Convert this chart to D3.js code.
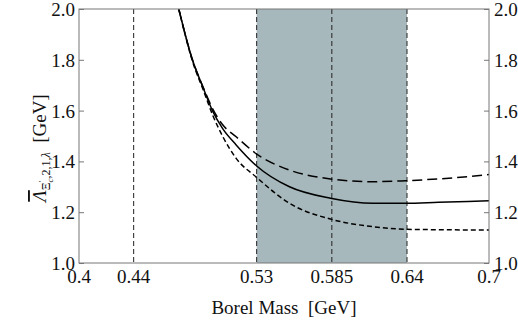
<!DOCTYPE html>
<html>
<head>
<meta charset="utf-8">
<script src="https://cdn.jsdelivr.net/npm/d3@7"></script>
<style>
  body { margin: 0; background: #fff; }
</style>
</head>
<body>
<svg id="chart" width="518" height="322"></svg>
<script>
// Borel mass (GeV) and the three curves
const borelMass = [0.473, 0.483, 0.491, 0.498, 0.505, 0.515, 0.53, 0.554, 0.584, 0.615, 0.639, 0.663, 0.70];
const central   = [2.0, 1.80, 1.688, 1.596, 1.53, 1.465, 1.382, 1.300, 1.255, 1.235, 1.235, 1.239, 1.245];
const upper     = [2.0, 1.80, 1.69, 1.605, 1.545, 1.497, 1.429, 1.366, 1.331, 1.320, 1.324, 1.331, 1.348];
const lower     = [2.0, 1.795, 1.68, 1.58, 1.50, 1.412, 1.337, 1.235, 1.173, 1.143, 1.133, 1.131, 1.130];

const xTicks = [0.4, 0.44, 0.53, 0.585, 0.64, 0.7];
const yTicks = [1.0, 1.2, 1.4, 1.6, 1.8, 2.0];
const markers = [0.44, 0.53, 0.585, 0.64];
const window_ = [0.53, 0.64];

const FONT = '"Liberation Serif"';
const svg = d3.select("#chart");
const margin = { top: 9, right: 29, bottom: 59, left: 79 };
const width = 518, height = 322;

const x = d3.scaleLinear().domain([0.4, 0.7]).range([margin.left, width - margin.right]);
const y = d3.scaleLinear().domain([1.0, 2.0]).range([height - margin.bottom, margin.top]);

svg.append("defs").append("clipPath").attr("id", "clip").append("rect")
  .attr("x", x(0.4)).attr("y", y(2.0)).attr("width", x(0.7) - x(0.4)).attr("height", y(1.0) - y(2.0));

// shaded working window
svg.append("rect").attr("x", x(window_[0])).attr("y", y(2.0))
  .attr("width", x(window_[1]) - x(window_[0])).attr("height", y(1.0) - y(2.0))
  .attr("fill", "#a6b8bb");

// vertical dashed markers
svg.selectAll(".marker").data(markers).join("line").attr("class", "marker")
  .attr("x1", d => x(d)).attr("x2", d => x(d)).attr("y1", y(2.0)).attr("y2", y(1.0))
  .attr("stroke", "#222").attr("stroke-width", 1).attr("stroke-dasharray", "5,3");

// curves
const line = d3.line().curve(d3.curveMonotoneX).x(d => x(d[0])).y(d => y(d[1]));
const series = [
  { vals: upper, dash: "10,5" },
  { vals: central, dash: null },
  { vals: lower, dash: "5,3" }
];
svg.append("g").attr("clip-path", "url(#clip)").selectAll("path").data(series).join("path")
  .attr("d", s => line(borelMass.map((m, i) => [m, s.vals[i]])))
  .attr("fill", "none").attr("stroke", "#000").attr("stroke-width", 1.5)
  .attr("stroke-dasharray", s => s.dash);

// frame
svg.append("rect").attr("x", x(0.4)).attr("y", y(2.0))
  .attr("width", x(0.7) - x(0.4)).attr("height", y(1.0) - y(2.0))
  .attr("fill", "none").attr("stroke", "#777").attr("stroke-width", 1);

// y axes (ticks point inwards)
const yl = svg.append("g").attr("transform", `translate(${x(0.4)},0)`)
  .call(d3.axisRight(y).tickValues(yTicks).tickSize(5).tickFormat(""));
const yr = svg.append("g").attr("transform", `translate(${x(0.7)},0)`)
  .call(d3.axisLeft(y).tickValues(yTicks).tickSize(5).tickFormat(""));
[yl, yr].forEach(g => {
  g.select(".domain").remove();
  g.selectAll("line").attr("stroke", "#777");
});

svg.selectAll(".ylabL").data(yTicks).join("text").attr("class", "ylabL")
  .attr("x", x(0.4) - 4).attr("y", d => y(d) + 7).attr("text-anchor", "end")
  .style("font-family", FONT).style("font-size", "19px").attr("fill", "#111")
  .text(d => d3.format(".1f")(d));
svg.selectAll(".ylabR").data(yTicks).join("text").attr("class", "ylabR")
  .attr("x", x(0.7) + 5).attr("y", d => y(d) + 7).attr("text-anchor", "start")
  .style("font-family", FONT).style("font-size", "19px").attr("fill", "#111")
  .text(d => d3.format(".1f")(d));

svg.selectAll(".xlab").data(xTicks).join("text").attr("class", "xlab")
  .attr("x", d => x(d)).attr("y", y(1.0) + 20).attr("text-anchor", "middle")
  .style("font-family", FONT).style("font-size", "19px").attr("fill", "#111")
  .text(d => String(d));

// axis titles
svg.append("text").attr("x", (x(0.4) + x(0.7)) / 2).attr("y", 314)
  .attr("text-anchor", "middle").style("font-family", FONT).style("font-size", "19px").attr("fill", "#111")
  .text("Borel Mass\u00a0\u00a0[GeV]");

const yt = svg.append("text").attr("transform", "translate(46,148) rotate(-90)")
  .attr("text-anchor", "middle").style("font-family", FONT).style("font-size", "19px").attr("fill", "#111");
yt.append("tspan").style("font-style", "italic").style("text-decoration", "overline").text("Λ");
yt.append("tspan").style("font-size", "12px").attr("dy", 4).text("Ξ");
yt.append("tspan").style("font-size", "9px").attr("dy", -5).text("′");
yt.append("tspan").style("font-size", "9px").attr("dx", -2).attr("dy", 8).style("font-style", "italic").text("c");
yt.append("tspan").style("font-size", "12px").attr("dy", -3).text(",2,1,");
yt.append("tspan").style("font-size", "12px").style("font-style", "italic").text("λ");
yt.append("tspan").attr("dy", -4).text("\u00a0\u00a0[GeV]");
</script>
</body>
</html>
